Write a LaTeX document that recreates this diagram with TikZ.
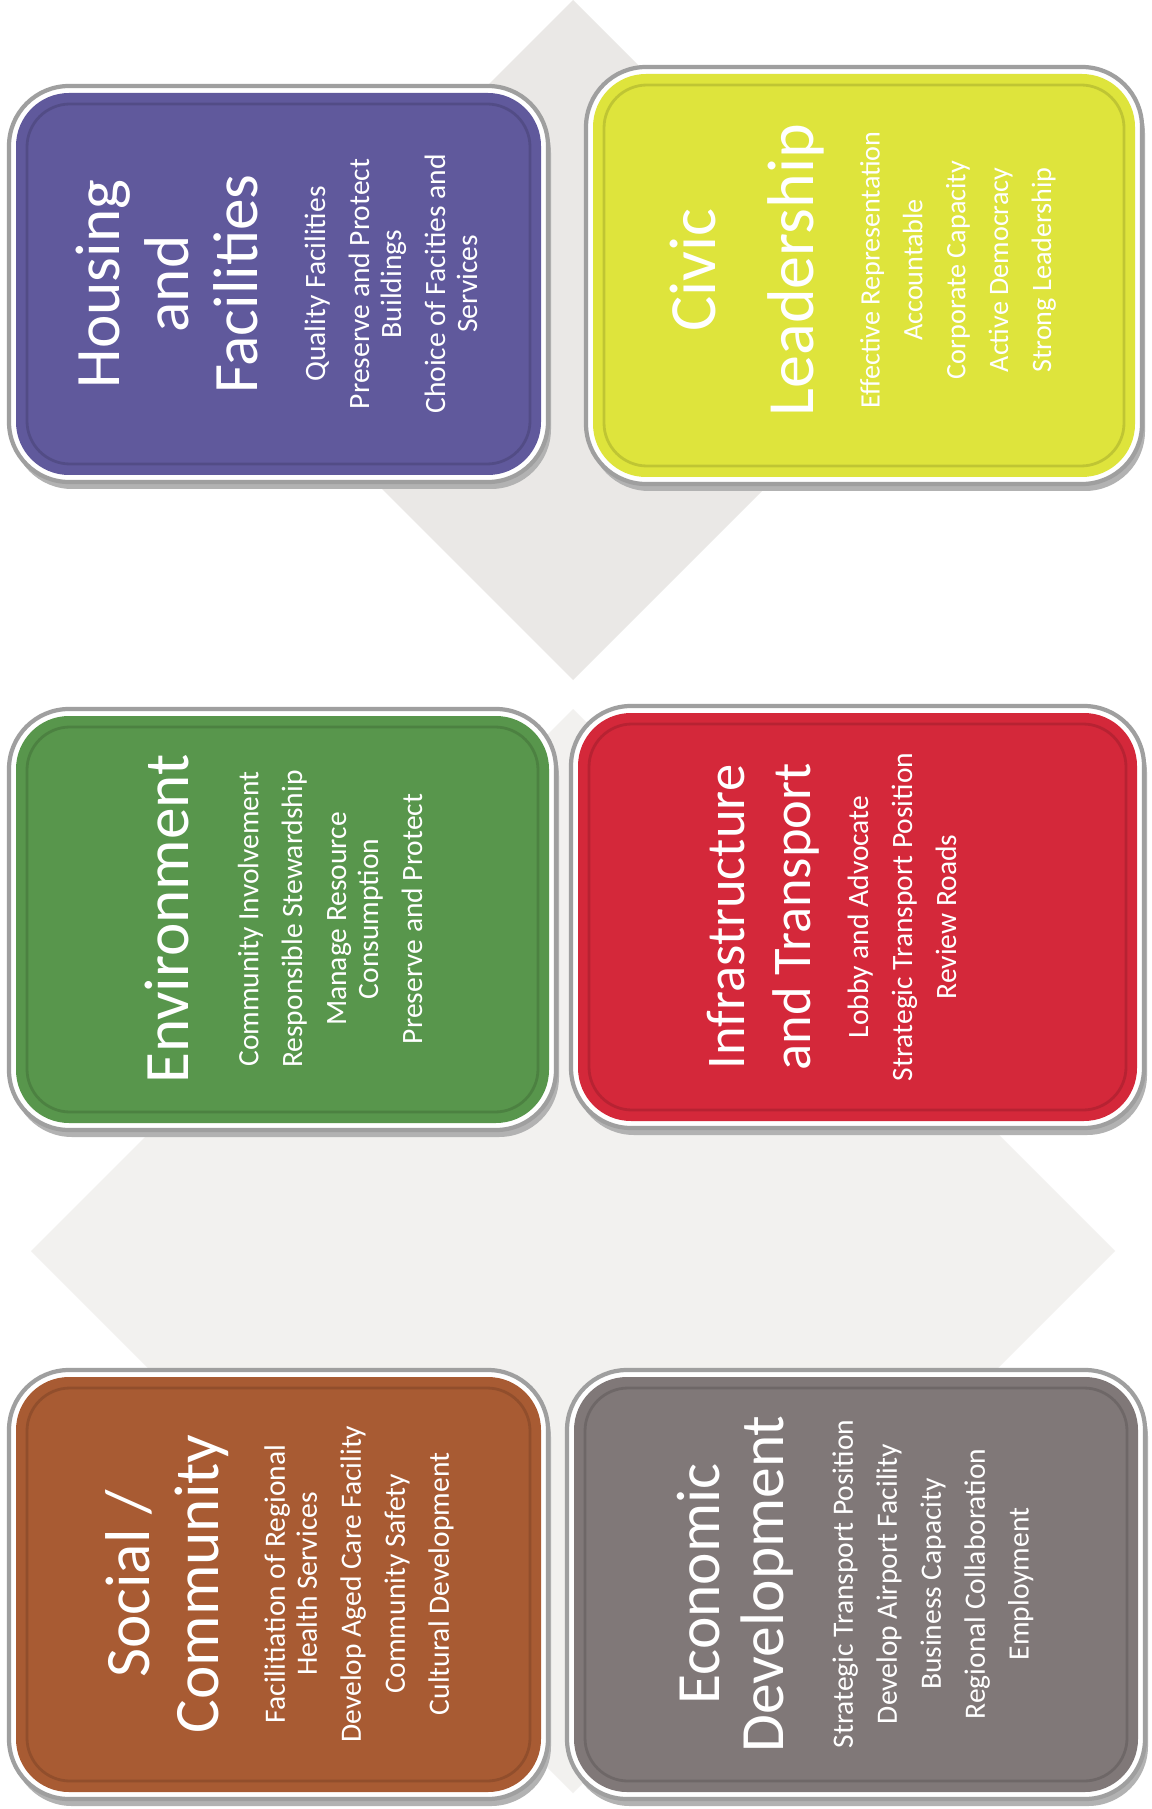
\documentclass[tikz,border=0pt]{standalone}
\usepackage{fontspec}
\setmainfont{Carlito}

\definecolor{housingpurple}{RGB}{96,89,156}
\definecolor{civicyellow}{RGB}{222,228,60}
\definecolor{envgreen}{RGB}{88,150,76}
\definecolor{infrared}{RGB}{212,40,58}
\definecolor{socialbrown}{RGB}{168,91,51}
\definecolor{econgray}{RGB}{128,120,120}
\definecolor{diamondgray}{RGB}{234,232,230}
\definecolor{diamondlight}{RGB}{242,241,239}

\newcommand{\tinbox}[5]
{
	\fill[black!30, rounded corners=6mm] ({#1+3},{#2+7}) rectangle ({#3+3},{#4+7});
	\filldraw[fill=white, draw=gray!75, line width=1.2pt, rounded corners=6mm] (#1,#2) rectangle (#3,#4);
	\fill[#5, rounded corners=5.3mm] ({#1+7},{#2+7}) rectangle ({#3-7},{#4-7});
	\draw[#5!70!black, opacity=.45, line width=.8pt, rounded corners=4.3mm] ({#1+18},{#2+18}) rectangle ({#3-18},{#4-18});
}

\begin{document}
\begin{tikzpicture}[x=0.1mm, y=-0.1mm,
	headtext/.style={rotate=90, align=center, text=white, font=\fontsize{18}{19.6}\selectfont},
	itemtext/.style={rotate=90, align=center, text=white, font=\fontsize{8.4}{9.1}\selectfont}]
	\fill[white] (0,0) rectangle (1152,1809);
	\useasboundingbox (0,0) rectangle (1152,1809);
	% grey diamonds behind the tins
	\fill[diamondgray] (573,0) -- (913,340) -- (573,680) -- (233,340) -- cycle;
	\fill[diamondlight] (573,709) -- (1115,1251) -- (573,1793) -- (31,1251) -- cycle;
	% tins
	\tinbox{9}{86}{548}{482}{housingpurple}
	\tinbox{586}{67}{1142}{484}{civicyellow}
	\tinbox{9}{709}{556}{1130}{envgreen}
	\tinbox{571}{706}{1144}{1128}{infrared}
	\tinbox{9}{1370}{548}{1799}{socialbrown}
	\tinbox{567}{1370}{1145}{1799}{econgray}
	% texts
	\node[headtext] (hfTitle) at (167,284) {Housing\\and\\Facilities};
	\node[itemtext] (hfItems) at (391,284) {Quality Facilities\\[3.4pt]Preserve and Protect\\Buildings\\[3.4pt]Choice of Facities and\\Services};
	\node[headtext, font=\fontsize{18.8}{27.9}\selectfont] (clTitle) at (747,270) {Civic\\Leadership};
	\node[itemtext, font=\fontsize{8}{12.2}\selectfont] (clItems) at (958,270) {Effective Representation\\Accountable\\Corporate Capacity\\Active Democracy\\Strong Leadership};
	\node[headtext] (envTitle) at (167,919) {Environment};
	\node[itemtext] (envItems) at (330,919) {Community Involvement\\[3.4pt]Responsible Stewardship\\[3.4pt]Manage Resource\\Consumption\\[3.4pt]Preserve and Protect};
	\node[headtext, font=\fontsize{15.5}{18.8}\selectfont] (itTitle) at (763,917) {Infrastructure\\and Transport};
	\node[itemtext] (itItems) at (902,917) {Lobby and Advocate\\[3.4pt]Strategic Transport Position\\[3.4pt]Review Roads};
	\node[headtext] (scTitle) at (167,1584) {Social /\\Community};
	\node[itemtext] (scItems) at (359,1584) {Facilitiation of Regional\\Health Services\\[3.4pt]Develop Aged Care Facility\\[3.4pt]Community Safety\\[3.4pt]Cultural Development};
	\node[headtext, font=\fontsize{17.5}{18.2}\selectfont] (edTitle) at (735,1584) {Economic\\Development};
	\node[itemtext] (edItems) at (933,1584) {Strategic Transport Position\\[3.4pt]Develop Airport Facility\\[3.4pt]Business Capacity\\[3.4pt]Regional Collaboration\\[3.4pt]Employment};
\end{tikzpicture}
\end{document}
